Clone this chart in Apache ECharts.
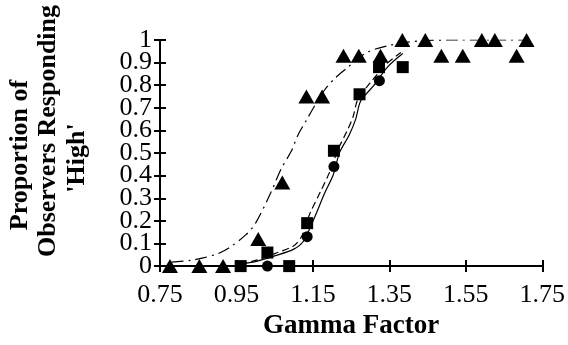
<!DOCTYPE html>
<html>
<head>
<meta charset="utf-8">
<script src="https://cdn.jsdelivr.net/npm/echarts@6/dist/echarts.min.js"></script>
<style>
html,body{margin:0;padding:0;background:#fff;}
#main{width:568px;height:345px;}
</style>
</head>
<body>
<div id="main"></div>
<script>
// tick labels
var xTicks=[0.75,0.95,1.15,1.35,1.55,1.75];
var yTicks=[0,0.1,0.2,0.3,0.4,0.5,0.6,0.7,0.8,0.9,1];
// observed points
var triX=[0.776,0.853,0.915,1.007,1.070,1.133,1.174,1.230,1.270,1.327,1.384,1.444,1.486,1.542,1.592,1.626,1.683,1.709];
var triY=[0,0,0,0.12,0.37,0.75,0.75,0.93,0.93,0.93,1,1,0.93,0.93,1,1,0.93,1];
var sqX=[0.961,1.031,1.088,1.135,1.205,1.272,1.323,1.385];
var sqY=[0,0.06,0,0.19,0.51,0.76,0.88,0.88];
var cirX=[1.031,1.135,1.205,1.324];
var cirY=[0,0.13,0.44,0.82];
// fitted curves
var triFitX=[0.78,0.83,0.86,0.9,0.93,0.975,1.0,1.04,1.067,1.094,1.111,1.133,1.155,1.181,1.207,1.242,1.29,1.342,1.394,1.45,1.5,1.72];
var triFitY=[0.018,0.025,0.035,0.054,0.08,0.139,0.19,0.325,0.43,0.51,0.58,0.645,0.71,0.78,0.83,0.88,0.944,0.973,0.99,0.998,1,1];
var sqFitX=[0.96,1.0,1.05,1.1,1.12,1.142,1.17,1.194,1.216,1.24,1.255,1.268,1.3,1.34,1.38];
var sqFitY=[0.012,0.025,0.055,0.09,0.13,0.232,0.33,0.417,0.517,0.6,0.66,0.74,0.81,0.89,0.945];
var cirFitX=[0.96,1.0,1.05,1.1,1.125,1.155,1.18,1.203,1.22,1.245,1.262,1.275,1.31,1.345,1.385];
var cirFitY=[0.01,0.02,0.045,0.075,0.11,0.218,0.32,0.403,0.503,0.58,0.65,0.73,0.8,0.88,0.94];
// y axis title, one entry per line
var yTitle=["Proportion of","Observers Responding","'High'"];

function pairs(xs,ys){
	var out=[];
	for(var i=0;i<xs.length;i++){
		out.push([xs[i],ys[i]]);
	}
	return out;
}

var font='"Liberation Serif","Times New Roman",serif';
var xMin=xTicks[0],xMax=xTicks[xTicks.length-1];
var yMin=yTicks[0],yMax=yTicks[yTicks.length-1];

// y labels are split over two axes (even / odd tenths) so echarts
// does not drop the ones next to 0 and 1
function yLabel(odd){
	return {
		color:'#000',fontFamily:font,fontSize:26,margin:8,
		showMinLabel:true,showMaxLabel:true,
		formatter:function(v){
			var n=Math.round(v*10);
			if((n%2==1)!=odd) return '';
			return ''+(n/10);
		}
	};
}

// rotated title lines: x position and centre y of each line
var titlePos=[[20,155],[48,131],[77,158]];
var graphics=[];
for(var i=0;i<yTitle.length;i++){
	graphics.push({
		type:'text',x:titlePos[i][0],y:titlePos[i][1],rotation:Math.PI/2,
		style:{
			text:yTitle[i],fill:'#000',font:'bold 26px '+font,
			textAlign:'center',textVerticalAlign:'middle',
			align:'center',verticalAlign:'middle'
		}
	});
}

var myChart=echarts.init(document.getElementById('main'));
var option={
	backgroundColor:'#fff',
	animation:false,
	grid:{left:160,right:25,top:40,bottom:71},
	xAxis:[{
		type:'value',min:xMin,max:xMax,interval:0.2,position:'bottom',
		axisLine:{onZero:false,lineStyle:{color:'#000',width:2}},
		axisTick:{inside:false,length:6,lineStyle:{color:'#000',width:2}},
		axisLabel:{color:'#000',fontFamily:font,fontSize:26,margin:16,
			showMinLabel:true,showMaxLabel:true,
			formatter:function(v){return v.toFixed(2);}},
		splitLine:{show:false},
		name:'Gamma Factor',nameLocation:'middle',nameGap:41,
		nameTextStyle:{color:'#000',fontFamily:font,fontSize:27,fontWeight:'bold'}
	},{
		type:'value',min:xMin,max:xMax,interval:0.2,position:'bottom',offset:0,
		axisLine:{show:false},
		axisTick:{inside:true,length:6,lineStyle:{color:'#000',width:2}},
		axisLabel:{show:false},splitLine:{show:false}
	}],
	yAxis:[{
		type:'value',min:yMin,max:yMax,interval:0.1,position:'left',
		axisLine:{onZero:false,lineStyle:{color:'#000',width:2}},
		axisTick:{inside:false,length:6,lineStyle:{color:'#000',width:2}},
		axisLabel:yLabel(false),
		splitLine:{show:false}
	},{
		type:'value',min:yMin,max:yMax,interval:0.1,position:'left',offset:0,
		axisLine:{show:false},
		axisTick:{inside:true,length:6,lineStyle:{color:'#000',width:2}},
		axisLabel:{show:false},splitLine:{show:false}
	},{
		type:'value',min:yMin,max:yMax,interval:0.1,position:'left',offset:0,
		axisLine:{show:false},axisTick:{show:false},splitLine:{show:false},
		axisLabel:yLabel(true)
	}],
	graphic:graphics,
	series:[{
		type:'line',data:pairs(triFitX,triFitY),smooth:0.3,showSymbol:false,
		lineStyle:{color:'#000',width:1.2,type:[12,5,2,5]},z:2
	},{
		type:'line',data:pairs(sqFitX,sqFitY),smooth:0.3,showSymbol:false,
		lineStyle:{color:'#000',width:1.2,type:[7,4]},z:2
	},{
		type:'line',data:pairs(cirFitX,cirFitY),smooth:0.3,showSymbol:false,
		lineStyle:{color:'#000',width:1.2,type:'solid'},z:2
	},{
		type:'scatter',data:pairs(triX,triY),symbol:'triangle',symbolSize:[16,14],
		itemStyle:{color:'#000',opacity:1},z:3
	},{
		type:'scatter',data:pairs(sqX,sqY),symbol:'rect',symbolSize:12,
		itemStyle:{color:'#000',opacity:1},z:3
	},{
		type:'scatter',data:pairs(cirX,cirY),symbol:'circle',symbolSize:11,
		itemStyle:{color:'#000',opacity:1},z:3
	}]
};
myChart.setOption(option);
</script>
</body>
</html>
